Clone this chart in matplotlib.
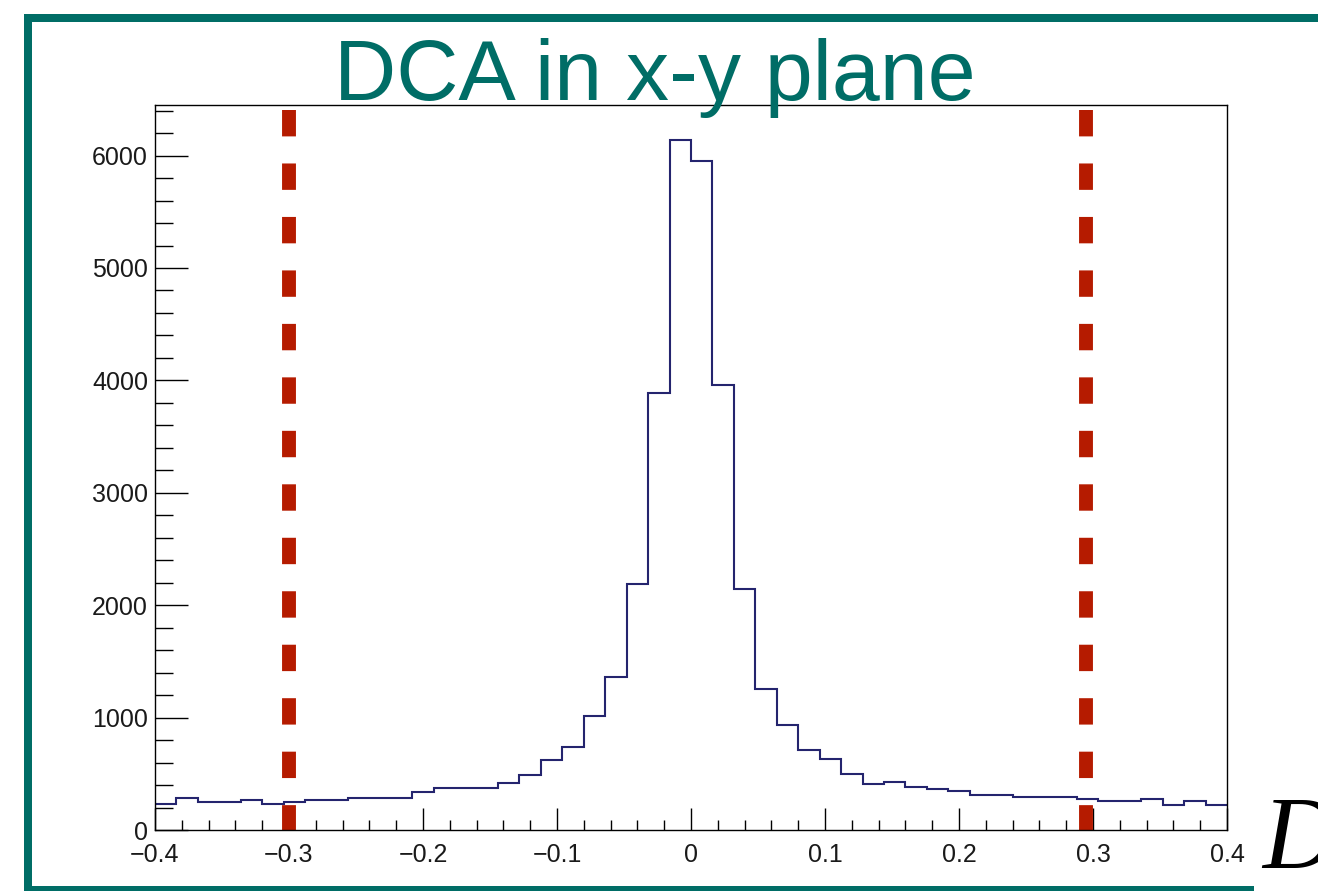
import numpy as np
import matplotlib
matplotlib.use('Agg')
import matplotlib.pyplot as plt
from matplotlib.patches import Rectangle
from matplotlib.ticker import MultipleLocator

# histogram of DCA (x-y), 50 bins from -0.4 to 0.4
counts = [235, 288, 250, 250, 270, 235, 250, 270, 270, 288,
          288, 288, 335, 370, 370, 370, 420, 488, 624, 741,
          1015, 1360, 2185, 3886, 6140, 5955, 3955, 2143, 1258, 930,
          710, 635, 500, 410, 430, 380, 366, 348, 311, 311,
          296, 296, 296, 280, 259, 259, 280, 223, 259, 223]
x_lo, x_hi = -0.4, 0.4
cut_lines = [-0.3, 0.295]
title = 'DCA in x-y plane'

teal = '#006d66'
W, H = 1318, 891

plt.rcParams['font.family'] = ['Liberation Sans', 'DejaVu Sans']

fig = plt.figure(figsize=(W / 100, H / 100), dpi=100)
fig.patch.set_facecolor('white')

# axes box in pixels: left 155, right 1227, top 105, bottom 830
ax = fig.add_axes([155 / W, 1 - 830 / H, (1227 - 155) / W, (830 - 105) / H])

edges = np.linspace(x_lo, x_hi, len(counts) + 1)
ax.stairs(counts, edges, baseline=None, color='#24246e', linewidth=1.5)

ax.set_xlim(x_lo, x_hi)
ax.set_ylim(0, 6450)

# red cut lines
for xc in cut_lines:
    ax.plot([xc, xc], [6406, 0], color='#b51b00', linewidth=10,
            dashes=(1.9, 1.95), solid_capstyle='butt', dash_capstyle='butt')

# ticks like ROOT
ax.xaxis.set_major_locator(MultipleLocator(0.1))
ax.xaxis.set_minor_locator(MultipleLocator(0.02))
ax.yaxis.set_major_locator(MultipleLocator(1000))
ax.yaxis.set_minor_locator(MultipleLocator(200))
ax.tick_params(axis='x', which='major', direction='in', length=16, width=1,
               labelsize=18, pad=9, labelcolor='#1a1a1a')
ax.tick_params(axis='x', which='minor', direction='in', length=7.5, width=1)
ax.tick_params(axis='y', which='major', direction='in', length=24, width=1,
               labelsize=18, pad=5, labelcolor='#1a1a1a')
ax.tick_params(axis='y', which='minor', direction='in', length=13, width=1)
ax.set_xticks(np.arange(-0.4, 0.41, 0.1))
ax.set_xticklabels(['\u22120.4', '\u22120.3', '\u22120.2', '\u22120.1', '0', '0.1', '0.2', '0.3', '0.4'])
for s in ax.spines.values():
    s.set_linewidth(1.0)

# title
fig.text(655 / W, 1 - 100 / H, title, ha='center', va='baseline',
         fontsize=62, color=teal)

# cut-off axis title at the right edge
fig.text(1262 / W, 1 - 868 / H, 'D', ha='left', va='baseline',
         fontsize=74, style='italic', family=['Liberation Serif', 'DejaVu Serif'])

# teal frame around the slide
fig.add_artist(Rectangle((24 / W, 0), 8 / W, 1 - 14 / H, transform=fig.transFigure,
                         color=teal, linewidth=0))
fig.add_artist(Rectangle((24 / W, 1 - 22 / H), 1 - 24 / W, 8 / H, transform=fig.transFigure,
                         color=teal, linewidth=0))
fig.add_artist(Rectangle((24 / W, 0), (1254 - 24) / W, 5 / H, transform=fig.transFigure,
                         color=teal, linewidth=0))

fig.savefig('out.png', dpi=100)
